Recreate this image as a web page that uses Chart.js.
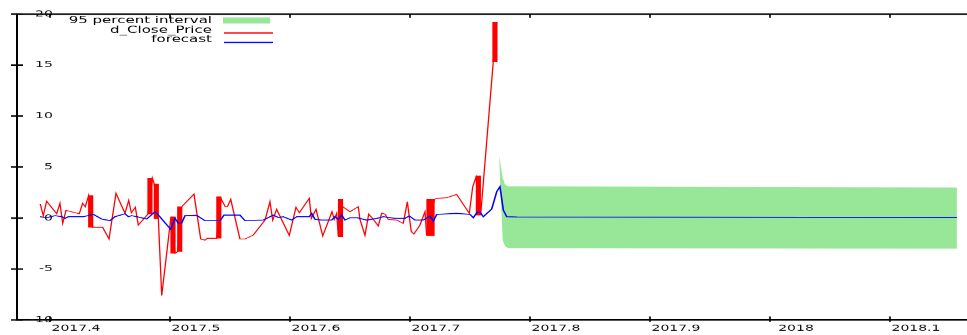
<!DOCTYPE html>
<html>
<head>
<meta charset="utf-8">
<script src="https://cdn.jsdelivr.net/npm/chart.js@4.4.0/dist/chart.umd.min.js"></script>
<style>
  html, body { margin: 0; padding: 0; background: #fff; overflow: hidden; }
  #arimaChart { display: block; }
</style>
</head>
<body>
<!-- the original picture is squashed vertically, so draw tall and shrink -->
<canvas id="arimaChart" width="967" height="550" style="width:967px;height:335px"></canvas>
<script>
// ----- DATA (fractional year, value) -----
const closeDates = [2017.3919, 2017.3944, 2017.3972, 2017.4056, 2017.4083, 2017.4106, 2017.4133, 2017.4244, 2017.4272, 2017.4294,
  2017.4322, 2017.4356, 2017.4439, 2017.4492, 2017.4550, 2017.4625, 2017.4656, 2017.4678, 2017.4711, 2017.4736,
  2017.4817, 2017.4853, 2017.4869, 2017.4903, 2017.4931, 2017.5008, 2017.5042, 2017.5064, 2017.5097, 2017.5200,
  2017.5256, 2017.5292, 2017.5311, 2017.5389, 2017.5425, 2017.5461, 2017.5478, 2017.5506, 2017.5583, 2017.5625,
  2017.5694, 2017.5792, 2017.5833, 2017.5856, 2017.5889, 2017.5994, 2017.6050, 2017.6078, 2017.6161, 2017.6178,
  2017.6217, 2017.6273, 2017.6350, 2017.6369, 2017.6389, 2017.6403, 2017.6439, 2017.6500, 2017.6569, 2017.6583,
  2017.6625, 2017.6656, 2017.6694, 2017.6736, 2017.6764, 2017.6792, 2017.6819, 2017.6889, 2017.6944, 2017.6978,
  2017.6994, 2017.7011, 2017.7033, 2017.7083, 2017.7125, 2017.7139, 2017.7203, 2017.7223, 2017.7306, 2017.7389,
  2017.7494, 2017.7523, 2017.7550, 2017.7589, 2017.7694, 2017.7723];
const closeValues = [1.37, 0.23, 1.64, 0.42, 1.44, -0.52, 0.75, 0.42, 1.44, 1.11,
  2.2, -0.91, -0.91, -2.06, 2.42, 0.46, 1.73, 0.52, 1.05, -0.69,
  0.4, 3.9, 3.33, -0.07, -7.6, 0.1, -3.46, -3.3, 1.11, 2.35,
  -2.06, -2.16, -1.99, -1.99, 1.9, 1.11, 1.11, 1.83, -2.06, -2.06,
  -1.67, -0.2, 1.6, -0.2, 0.85, -1.7, 1.05, 0.52, 1.93, -0.03,
  0.85, -1.76, 0.62, -0.13, 0.46, -1.8, 1.11, 0.62, 1.11, -0.13,
  -1.7, 0.39, -0.13, -0.78, 0.46, 0.39, -0.13, -0.2, -0.52, 1.6,
  0.13, -1.34, -1.57, -0.69, 0.62, -1.7, 1.83, 1.93, 1.99, 2.32,
  0.46, 3.07, 4.0, 0.29, 15.3, 19.2];

// days packed so close together they show as solid red blocks
const clusterDates = [2017.4339, 2017.4833, 2017.4886, 2017.5025, 2017.5081, 2017.5407, 2017.6421, 2017.7158, 2017.7184, 2017.7570, 2017.7708];
const clusterLow   = [-0.91, 0.39, -0.07, -3.46, -3.3, -1.99, -1.83, -1.73, -1.73, 0.29, 15.3];
const clusterHigh  = [2.22, 3.92, 3.33, 0.13, 1.11, 2.09, 1.83, 1.83, 1.83, 4.12, 19.2];

const forecastDates = [2017.3917, 2017.3972, 2017.4042, 2017.4098, 2017.4125, 2017.4153, 2017.4278, 2017.4361, 2017.4431, 2017.4500,
  2017.4542, 2017.4625, 2017.4653, 2017.4681, 2017.4723, 2017.4806, 2017.4875, 2017.4903, 2017.4958, 2017.5006,
  2017.5042, 2017.5069, 2017.5097, 2017.5125, 2017.5223, 2017.5292, 2017.5417, 2017.5450, 2017.5583, 2017.5625,
  2017.5778, 2017.5861, 2017.5903, 2017.5944, 2017.6014, 2017.6056, 2017.6161, 2017.6181, 2017.6208, 2017.6264,
  2017.6347, 2017.6375, 2017.6403, 2017.6431, 2017.6458, 2017.6500, 2017.6561, 2017.6639, 2017.6723, 2017.6778,
  2017.6875, 2017.6958, 2017.6994, 2017.7042, 2017.7111, 2017.7167, 2017.7194, 2017.7223, 2017.7389, 2017.7500,
  2017.7528, 2017.7561, 2017.7583, 2017.7611, 2017.7681, 2017.7723, 2017.7750, 2017.7778, 2017.7806, 2017.7892,
  2018.1558];
const forecastValues = [0.13, 0.03, 0.23, 0.13, -0.03, 0.13, 0.13, 0.36, -0.1, -0.26,
  0.13, 0.42, 0.13, 0.23, 0.13, -0.1, 0.62, 0.3, -0.46, -1.1,
  -0.03, -0.52, -0.5, 0.23, 0.26, -0.26, -0.26, 0.29, 0.29, -0.26,
  -0.2, 0.29, 0.05, 0.13, -0.2, 0.13, 0.13, 0.46, -0.13, -0.2,
  -0.2, 0.13, -0.13, 0.29, -0.2, 0.03, 0.03, -0.2, -0.03, 0.13,
  -0.03, -0.03, 0.2, -0.2, -0.2, 0.2, -0.3, 0.36, 0.46, 0.36,
  0.03, 0.59, 0.59, 0.13, 0.88, 2.58, 3.07, 0.78, 0.13, 0.1,
  0.05];

const intervalDates = [2017.7744, 2017.7773, 2017.7792, 2017.7817, 2018.1558];
const intervalUpper = [6.1, 3.9, 3.3, 3.1, 3.0];
const intervalLower = [5.5, -2.2, -2.75, -2.95, -3.0];

const xTicks = [2017.4, 2017.5, 2017.6, 2017.7, 2017.8, 2017.9, 2018.0, 2018.1];
const xTickLabels = ['2017.4', '2017.5', '2017.6', '2017.7', '2017.8', '2017.9', '2018', '2018.1'];
const yTicks = [-10, -5, 0, 5, 10, 15, 20];
const xMin = 2017.3725, xMax = 2018.1642;
const yMin = -10, yMax = 20;

const RED = '#ff0000', BLUE = '#0000ff', GREEN = '#98e698';
const pts = (xs, ys) => xs.map((x, i) => ({ x: x, y: ys[i] }));

// ----- inward tick marks and the legend (text right-aligned, symbol after it) -----
const legendRows = [
  { text: '95 percent interval', kind: 'box',  color: GREEN },
  { text: 'd_Close_Price',       kind: 'line', color: RED },
  { text: 'forecast',            kind: 'line', color: BLUE }
];

const framePlugin = {
  id: 'frameTicks',
  afterDraw(chart) {
    const c = chart.ctx;
    const xs = chart.scales.x, ys = chart.scales.y;
    const L = xs.getPixelForValue(xMin);
    const T = ys.getPixelForValue(yMax), B = ys.getPixelForValue(yMin);
    c.save();
    c.strokeStyle = '#000';
    c.lineWidth = 1.6;
    c.beginPath();
    xTicks.forEach(v => {
      const px = xs.getPixelForValue(v);
      c.moveTo(px, B + 3); c.lineTo(px, B - 6);
      c.moveTo(px, T); c.lineTo(px, T + 6);
    });
    c.stroke();
    c.lineWidth = 2.4;
    c.beginPath();
    yTicks.forEach(v => {
      const py = ys.getPixelForValue(v);
      c.moveTo(L - 6, py); c.lineTo(L + 6, py);
    });
    c.stroke();

    c.font = '15px "DejaVu Sans"';
    c.textAlign = 'right';
    c.textBaseline = 'alphabetic';
    legendRows.forEach((row, i) => {
      const base = 38 + i * 15.6;
      c.fillStyle = '#000';
      c.fillText(row.text, 212, base);
      c.fillStyle = row.color;
      if (row.kind === 'box') c.fillRect(223, base - 9.5, 47, 10);
      else c.fillRect(224, base - 0.5, 49, 2.2);
    });
    c.restore();
  }
};

const tickFont = { family: 'DejaVu Sans', size: 14 };
const hBorder = { display: true, color: '#000', width: 2.6 };

const ctx = document.getElementById('arimaChart').getContext('2d');
new Chart(ctx, {
  type: 'line',
  data: {
    datasets: [
      {
        label: '95 percent interval',
        data: pts(intervalDates, intervalUpper),
        borderWidth: 0, pointRadius: 0, backgroundColor: GREEN,
        fill: '+1', order: 4
      },
      {
        label: 'lower',
        data: pts(intervalDates, intervalLower),
        borderWidth: 0, pointRadius: 0, fill: false, order: 4
      },
      {
        label: 'd_Close_Price',
        data: pts(closeDates, closeValues),
        borderColor: RED, borderWidth: 1.3, pointRadius: 0, tension: 0, fill: false, order: 3
      },
      {
        type: 'bar',
        label: 'd_Close_Price (dense days)',
        data: clusterDates.map((x, i) => ({ x: x, y: [clusterLow[i], clusterHigh[i]] })),
        backgroundColor: RED, borderWidth: 0, barThickness: 4.5, order: 2
      },
      {
        label: 'forecast',
        data: pts(forecastDates, forecastValues),
        borderColor: BLUE, borderWidth: 1.6, pointRadius: 0, tension: 0, fill: false, order: 1
      }
    ]
  },
  options: {
    responsive: false,
    animation: false,
    events: [],
    layout: { padding: 0 },
    plugins: {
      legend: { display: false },
      tooltip: { enabled: false }
    },
    scales: {
      x: {
        type: 'linear', position: 'bottom', min: xMin, max: xMax, offset: false,
        afterBuildTicks: s => { s.ticks = xTicks.map(v => ({ value: v })); },
        afterFit: s => { s.height = 24.6; },
        grid: { display: false, drawTicks: false },
        border: hBorder,
        ticks: {
          autoSkip: false, maxRotation: 0, padding: 6, labelOffset: 26,
          color: '#111', font: tickFont,
          callback: (v, i) => xTickLabels[i]
        }
      },
      // only there to give the box its top edge
      xTop: {
        type: 'linear', position: 'top', min: xMin, max: xMax, offset: false,
        afterFit: s => { s.height = 23; },
        grid: { display: false, drawTicks: false },
        border: hBorder,
        ticks: { display: false }
      },
      y: {
        type: 'linear', position: 'left', min: yMin, max: yMax,
        afterBuildTicks: s => { s.ticks = yTicks.map(v => ({ value: v })); },
        afterFit: s => { s.width = 17; },
        grid: { display: false, drawTicks: false },
        border: { display: true, color: '#000', width: 2 },
        ticks: {
          // mirrored so the labels may overlap the axis line as in the original
          autoSkip: false, mirror: true, crossAlign: 'far', padding: 13,
          color: '#111', font: tickFont,
          callback: v => String(v)
        }
      }
    }
  },
  plugins: [framePlugin]
});
</script>
</body>
</html>
